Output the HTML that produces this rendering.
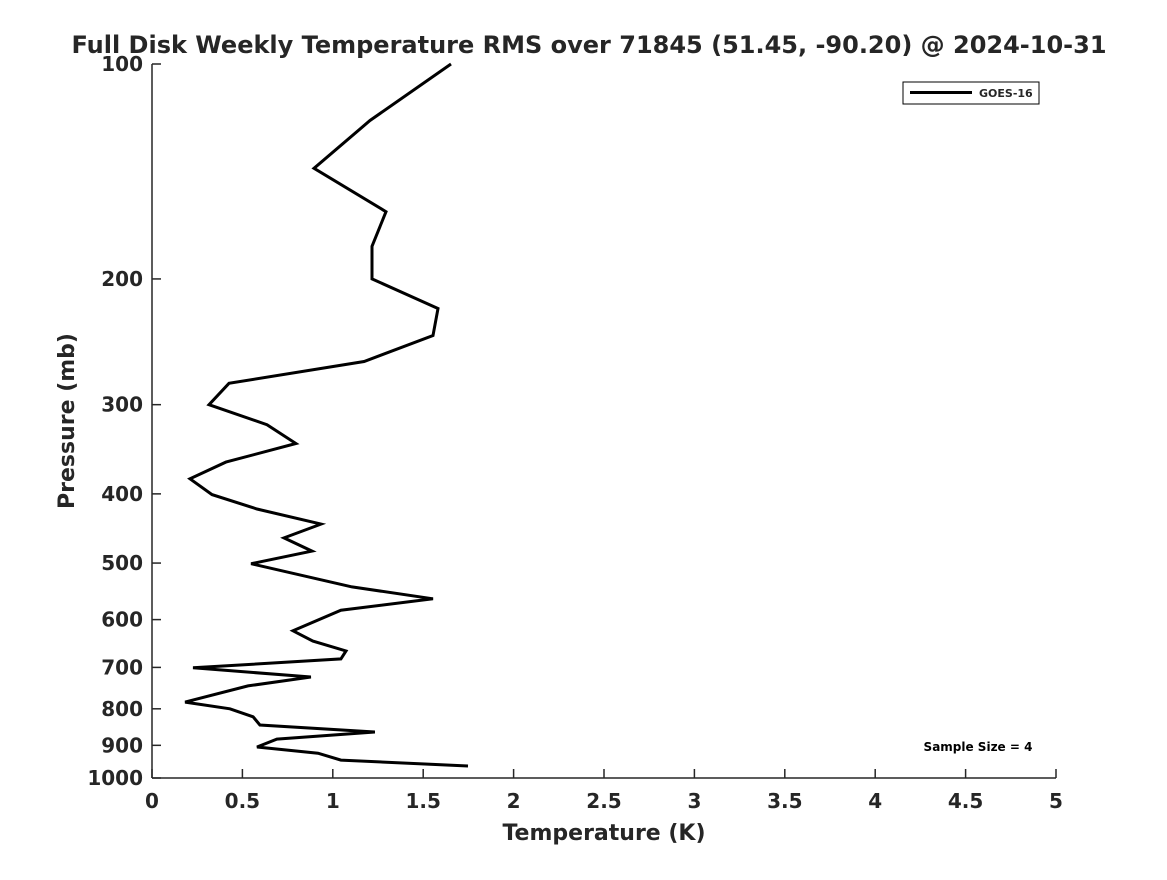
<!DOCTYPE html>
<html><head><meta charset="utf-8"><style>
body{margin:0;background:#fff;}
svg text{font-family:"DejaVu Sans","Liberation Sans",sans-serif;font-weight:bold;fill:#262626;}
</style></head><body>
<svg id="chart" width="1167" height="875" xmlns="http://www.w3.org/2000/svg">
<rect width="1167" height="875" fill="#fff"/>
<text x="589" y="53" font-size="24" text-anchor="middle">Full Disk Weekly Temperature RMS over 71845 (51.45, -90.20) @ 2024-10-31</text>
<g id="axes"></g>
<polyline id="series" fill="none" stroke="#000" stroke-width="3" stroke-linejoin="miter"/>
<text transform="translate(74,421) rotate(-90)" font-size="22" text-anchor="middle">Pressure (mb)</text>
<text x="604" y="840" font-size="22" text-anchor="middle">Temperature (K)</text>
<g>
<rect x="903" y="82" width="136" height="22" fill="#fff" stroke="#000" stroke-width="1"/>
<line x1="910" y1="92.5" x2="972" y2="92.5" stroke="#000" stroke-width="3"/>
<text x="979" y="97" font-size="11" fill="#000">GOES-16</text>
</g>
<text x="978" y="751" font-size="12" text-anchor="middle" style="fill:#000">Sample Size = 4</text>
</svg>
<script>
const pressures=[100,120,140,161,180,200,220,240,261,280,300,320,340,361,381,401,420,441,461,481,501,540,561,582,622,643,664,681,701,722,743,783,800,821,843,862,882,905,923,944,962];
const temps=[1.654,1.206,0.896,1.294,1.217,1.217,1.582,1.554,1.173,0.426,0.315,0.636,0.796,0.409,0.210,0.332,0.581,0.935,0.730,0.885,0.548,1.106,1.554,1.045,0.780,0.890,1.073,1.045,0.227,0.879,0.531,0.183,0.431,0.559,0.597,1.233,0.691,0.581,0.918,1.045,1.748];
const xTicks=[0,0.5,1,1.5,2,2.5,3,3.5,4,4.5,5];
const xTickLabels=["0","0.5","1","1.5","2","2.5","3","3.5","4","4.5","5"];
const yTicks=[100,200,300,400,500,600,700,800,900,1000];
const yTickLabels=["100","200","300","400","500","600","700","800","900","1000"];
const L=152,R=1056,T=64,B=778;
function xs(v){return L+(v-0)/(5-0)*(R-L);}
function ys(p){return T+(Math.log10(p)-2)*(B-T);}
const NS="http://www.w3.org/2000/svg";
const ax=document.getElementById('axes');
function mk(tag,attrs){const e=document.createElementNS(NS,tag);for(const k in attrs)e.setAttribute(k,attrs[k]);return e;}
let l=mk('line',{x1:L,y1:T,x2:L,y2:B,stroke:'#262626','stroke-width':1.5});


ax.appendChild(l);
l=mk('line',{x1:L,y1:B,x2:R,y2:B,stroke:'#262626','stroke-width':1.5});


ax.appendChild(l);
xTicks.forEach((v,i)=>{
  const x=xs(v);
  const t=mk('line',{x1:x,y1:B,x2:x,y2:B-9,stroke:'#262626','stroke-width':1.5});
  
  
  ax.appendChild(t);
  const tx=mk('text',{x:x,y:B+30,'font-size':20,'text-anchor':'middle'});
  
  
  tx.textContent=xTickLabels[i];ax.appendChild(tx);
});
yTicks.forEach((p,i)=>{
  const y=ys(p);
  const t=mk('line',{x1:L,y1:y,x2:L+9,y2:y,stroke:'#262626','stroke-width':1.5});
  
  
  ax.appendChild(t);
  const tx=mk('text',{x:L-9,y:y+7,'font-size':20,'text-anchor':'end'});
  
  
  tx.textContent=yTickLabels[i];ax.appendChild(tx);
});
document.getElementById('series').setAttribute('points',pressures.map((p,i)=>xs(temps[i]).toFixed(1)+','+ys(p).toFixed(1)).join(' '));
</script>
</body></html>
